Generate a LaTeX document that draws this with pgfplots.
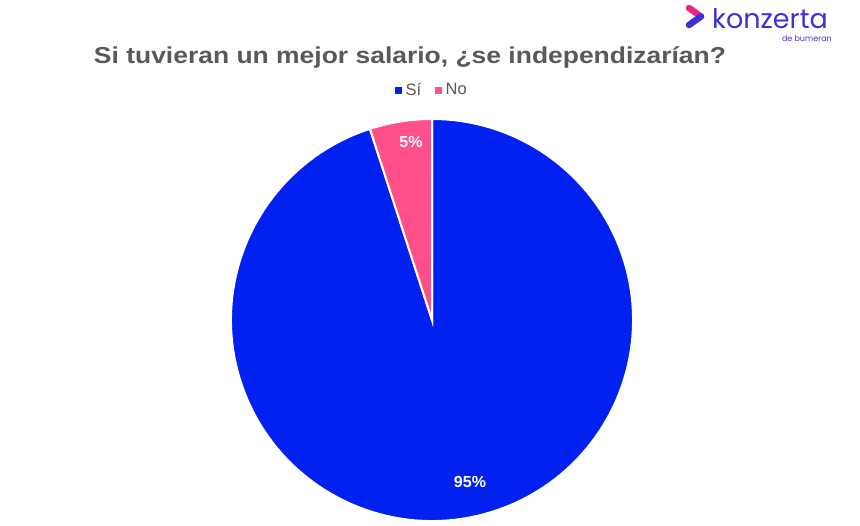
\documentclass[border=0pt]{standalone}
\usepackage{pgfplots}
\pgfplotsset{compat=1.18}
\usepackage{fontspec}
\setmainfont{Liberation Sans}
\newfontfamily\logofont{Poppins}
\definecolor{siblue}{RGB}{0,33,240}
\definecolor{nopink}{RGB}{255,80,138}
\definecolor{titlegray}{RGB}{89,89,89}
\definecolor{logoblue}{RGB}{62,50,212}
\definecolor{logopink}{RGB}{232,40,118}
\def\pNo{5}
\def\pSi{95}
\begin{document}
\begin{tikzpicture}[x=1pt,y=1pt]
\useasboundingbox (0,0) rectangle (860,-526);
\fill[white] (0,0) rectangle (860,-526);
\pgfmathsetmacro{\aNo}{90+3.6*\pNo}
\pgfmathsetmacro{\aSi}{\aNo+3.6*\pSi}
\begin{axis}[at={(432pt,-320pt)}, anchor=center, width=402pt, height=402pt,
  scale only axis, hide axis, xmin=-1, xmax=1, ymin=-1, ymax=1, clip=false,
  legend style={at={(0.5,1.072)}, anchor=center, draw=none, fill=none, legend columns=2,
    font=\fontsize{16.5}{18}\selectfont\color{titlegray},
    /tikz/every odd column/.append style={column sep=2pt},
    /tikz/every even column/.append style={column sep=12pt}},
  legend image code/.code={\fill[#1] (0pt,-3pt) rectangle (6pt,3pt);}]
\addlegendimage{siblue}\addlegendentry{Sí}
\addlegendimage{nopink}\addlegendentry{No}
\filldraw[siblue, draw=white, line width=2pt] (axis cs:0,0) -- (axis cs:{cos(\aNo)},{sin(\aNo)}) arc[start angle=\aNo, end angle=\aSi, radius=1] -- cycle;
\filldraw[nopink, draw=white, line width=2pt] (axis cs:0,0) -- (axis cs:0,1) arc[start angle=90, end angle=\aNo, radius=1] -- cycle;
\end{axis}
\node[text=white, font=\bfseries\fontsize{16}{18}\selectfont] at (411,-142) {\pNo\%};
\node[text=white, font=\bfseries\fontsize{16}{18}\selectfont] at (470,-482) {\pSi\%};
\node[text=titlegray, font=\bfseries\fontsize{23}{26}\selectfont, xscale=1.15] at (410,-57) {Si tuvieran un mejor salario, ¿se independizarían?};
% logo
\draw[logopink, line width=6.5pt, line cap=round] (689,-8) -- (701,-16.5);
\draw[logoblue, line width=6.5pt, line cap=round] (701,-16.5) -- (689,-25);
\node[anchor=base west, text=logoblue, font=\logofont\fontsize{27}{28}\selectfont, inner sep=0pt] at (712,-29) {konzerta};
\node[anchor=base east, text=logoblue, font=\logofont\fontsize{8}{9}\selectfont, inner sep=0pt] at (832,-42) {de bumeran};
\end{tikzpicture}
\end{document}
